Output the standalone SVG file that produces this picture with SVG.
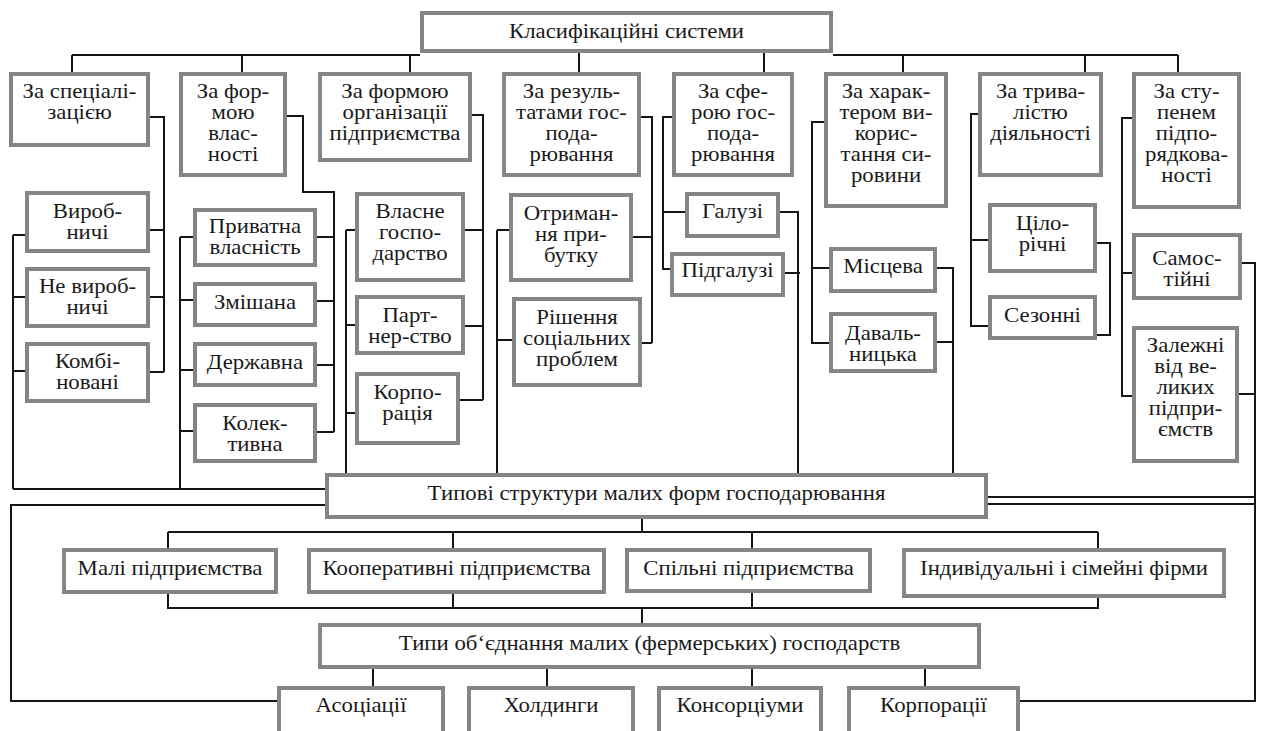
<svg xmlns="http://www.w3.org/2000/svg" width="1262" height="731" viewBox="0 0 1262 731">
<style>
.box{fill:#fff;stroke:#858585;stroke-width:4}
.ln{fill:none;stroke:#151515;stroke-width:2}
text{font-family:"Liberation Serif","Times New Roman",serif;font-size:20px;fill:#1a1a1a;text-anchor:middle}
</style>
<rect x="0" y="0" width="1262" height="731" fill="#fff"/>
<g id="connectors">
<path class="ln" d="M72,55 H420 M833,55 H1178 M72,55 V72 M242,55 V72 M410,55 V72 M579,53 V72 M764,53 V72 M903,55 V72 M1085,55 V72 M1178,55 V72"/>
<path class="ln" d="M150,117 H164 V372 M150,230 H164 M150,297 H164 M150,372 H164 M13,235 V489 M13,235 H25 M13,297 H25 M13,371 H25"/>
<path class="ln" d="M180,237 V489 M180,237 H193 M180,300 H193 M180,370 H193 M180,431 H193 M287,116 H303 V192 H334 V432 M317,237 H334 M317,301 H334 M317,365 H334 M317,432 H334 M13,489 H325"/>
<path class="ln" d="M472,115 H483 V400 M465,230 H483 M465,326 H483 M460,400 H483 M346,230 V473 M346,230 H355 M346,325 H355 M346,413 H355"/>
<path class="ln" d="M641,117 H652 V343 M633,237 H652 M642,343 H652 M497,230 V473 M497,230 H509 M497,340 H512"/>
<path class="ln" d="M672,117 H663 V269 H670 M663,212 H685 M780,212 H798 V473 M785,273 H800"/>
<path class="ln" d="M824,122 H812 V343 H829 M812,268 H829 M937,268 H953 V473 M937,342 H953"/>
<path class="ln" d="M978,114 H971 V326 H988 M971,240 H988 M1097,243 H1110 V335 H1097"/>
<path class="ln" d="M1132,118 H1122 V396 H1132 M1122,273 H1132 M1242,263 H1255 V701 H1020 M1239,394 H1255 M1255,497 H988 M988,504 H1255"/>
<path class="ln" d="M325,505 H11 V701 H277"/>
<path class="ln" d="M642,519 V532 M168,532 H1098 M168,532 V548 M453,532 V548 M752,532 V548 M1098,532 V548 M168,594 V608 H1098 V598 M453,594 V608 M752,593 V608 M642,608 V623"/>
<path class="ln" d="M373,669 V686 M547,669 V686 M752,669 V686 M925,669 V686"/>
</g>
<g id="n-title"><rect class="box" x="422" y="13" width="409" height="38"/><text transform="translate(626.5 38) scale(1.14 1)">Класифікаційні системи</text></g>
<g id="n1"><rect class="box" x="11" y="74" width="137" height="71"/><text transform="translate(79.5 98) scale(1.14 1)"><tspan x="0">За спеціалі-</tspan><tspan x="0" dy="21">зацією</tspan></text></g>
<g id="n2"><rect class="box" x="181" y="74" width="104" height="101"/><text transform="translate(233 98) scale(1.14 1)"><tspan x="0">За фор-</tspan><tspan x="0" dy="21">мою</tspan><tspan x="0" dy="21">влас-</tspan><tspan x="0" dy="21">ності</tspan></text></g>
<g id="n3"><rect class="box" x="320" y="74" width="150" height="86"/><text transform="translate(395 98) scale(1.14 1)"><tspan x="0">За формою</tspan><tspan x="0" dy="21">організації</tspan><tspan x="0" dy="21">підприємства</tspan></text></g>
<g id="n4"><rect class="box" x="504" y="74" width="135" height="101"/><text transform="translate(571.5 98) scale(1.14 1)"><tspan x="0">За резуль-</tspan><tspan x="0" dy="21">татами гос-</tspan><tspan x="0" dy="21">пода-</tspan><tspan x="0" dy="21">рювання</tspan></text></g>
<g id="n5"><rect class="box" x="674" y="74" width="118" height="101"/><text transform="translate(733 98) scale(1.14 1)"><tspan x="0">За сфе-</tspan><tspan x="0" dy="21">рою гос-</tspan><tspan x="0" dy="21">пода-</tspan><tspan x="0" dy="21">рювання</tspan></text></g>
<g id="n6"><rect class="box" x="826" y="74" width="120" height="132"/><text transform="translate(886 98) scale(1.14 1)"><tspan x="0">За харак-</tspan><tspan x="0" dy="21">тером ви-</tspan><tspan x="0" dy="21">корис-</tspan><tspan x="0" dy="21">тання си-</tspan><tspan x="0" dy="21">ровини</tspan></text></g>
<g id="n7"><rect class="box" x="980" y="74" width="121" height="101"/><text transform="translate(1040.5 98) scale(1.14 1)"><tspan x="0">За трива-</tspan><tspan x="0" dy="21">лістю</tspan><tspan x="0" dy="21">діяльності</tspan></text></g>
<g id="n8"><rect class="box" x="1134" y="74" width="105" height="133"/><text transform="translate(1186.5 98) scale(1.14 1)"><tspan x="0">За сту-</tspan><tspan x="0" dy="21">пенем</tspan><tspan x="0" dy="21">підпо-</tspan><tspan x="0" dy="21">рядкова-</tspan><tspan x="0" dy="21">ності</tspan></text></g>
<g id="c1a"><rect class="box" x="27" y="193" width="121" height="58"/><text transform="translate(87.5 218) scale(1.14 1)"><tspan x="0">Вироб-</tspan><tspan x="0" dy="21">ничі</tspan></text></g>
<g id="c1b"><rect class="box" x="27" y="269" width="121" height="57"/><text transform="translate(87.5 293) scale(1.14 1)"><tspan x="0">Не вироб-</tspan><tspan x="0" dy="21">ничі</tspan></text></g>
<g id="c1c"><rect class="box" x="27" y="344" width="121" height="57"/><text transform="translate(87.5 368) scale(1.14 1)"><tspan x="0">Комбі-</tspan><tspan x="0" dy="21">новані</tspan></text></g>
<g id="c2a"><rect class="box" x="195" y="210" width="120" height="55"/><text transform="translate(255 233) scale(1.14 1)"><tspan x="0">Приватна</tspan><tspan x="0" dy="21">власність</tspan></text></g>
<g id="c2b"><rect class="box" x="195" y="284" width="120" height="41"/><text transform="translate(255 309) scale(1.14 1)">Змішана</text></g>
<g id="c2c"><rect class="box" x="195" y="344" width="120" height="41"/><text transform="translate(255 369) scale(1.14 1)">Державна</text></g>
<g id="c2d"><rect class="box" x="195" y="405" width="120" height="56"/><text transform="translate(255 430) scale(1.14 1)"><tspan x="0">Колек-</tspan><tspan x="0" dy="21">тивна</tspan></text></g>
<g id="c3a"><rect class="box" x="357" y="194" width="106" height="86"/><text transform="translate(410 218) scale(1.14 1)"><tspan x="0">Власне</tspan><tspan x="0" dy="21">госпо-</tspan><tspan x="0" dy="21">дарство</tspan></text></g>
<g id="c3b"><rect class="box" x="357" y="297" width="106" height="56"/><text transform="translate(410 322) scale(1.14 1)"><tspan x="0">Парт-</tspan><tspan x="0" dy="21">нер-ство</tspan></text></g>
<g id="c3c"><rect class="box" x="357" y="374" width="101" height="69"/><text transform="translate(407.5 399) scale(1.14 1)"><tspan x="0">Корпо-</tspan><tspan x="0" dy="21">рація</tspan></text></g>
<g id="c4a"><rect class="box" x="511" y="195" width="120" height="85"/><text transform="translate(571 220) scale(1.14 1)"><tspan x="0">Отриман-</tspan><tspan x="0" dy="21">ня при-</tspan><tspan x="0" dy="21">бутку</tspan></text></g>
<g id="c4b"><rect class="box" x="514" y="299" width="126" height="86"/><text transform="translate(577 324) scale(1.14 1)"><tspan x="0">Рішення</tspan><tspan x="0" dy="21">соціальних</tspan><tspan x="0" dy="21">проблем</tspan></text></g>
<g id="c5a"><rect class="box" x="687" y="194" width="91" height="42"/><text transform="translate(732.5 218) scale(1.14 1)">Галузі</text></g>
<g id="c5b"><rect class="box" x="672" y="254" width="111" height="41"/><text transform="translate(727.5 277) scale(1.14 1)">Підгалузі</text></g>
<g id="c6a"><rect class="box" x="831" y="249" width="104" height="42"/><text transform="translate(883 273) scale(1.14 1)">Місцева</text></g>
<g id="c6b"><rect class="box" x="831" y="314" width="104" height="57"/><text transform="translate(883 340) scale(1.14 1)"><tspan x="0">Даваль-</tspan><tspan x="0" dy="21">ницька</tspan></text></g>
<g id="c7a"><rect class="box" x="990" y="205" width="105" height="66"/><text transform="translate(1042.5 230) scale(1.14 1)"><tspan x="0">Ціло-</tspan><tspan x="0" dy="21">річні</tspan></text></g>
<g id="c7b"><rect class="box" x="990" y="297" width="105" height="41"/><text transform="translate(1042.5 322) scale(1.14 1)">Сезонні</text></g>
<g id="c8a"><rect class="box" x="1134" y="235" width="106" height="63"/><text transform="translate(1187 265) scale(1.14 1)"><tspan x="0">Самос-</tspan><tspan x="0" dy="21">тійні</tspan></text></g>
<g id="c8b"><rect class="box" x="1134" y="328" width="103" height="133"/><text transform="translate(1185.5 352) scale(1.14 1)"><tspan x="0">Залежні</tspan><tspan x="0" dy="21">від ве-</tspan><tspan x="0" dy="21">ликих</tspan><tspan x="0" dy="21">підпри-</tspan><tspan x="0" dy="21">ємств</tspan></text></g>
<g id="n-typovi"><rect class="box" x="327" y="475" width="659" height="42"/><text transform="translate(656.5 500) scale(1.14 1)">Типові структури малих форм господарювання</text></g>
<g id="r3a"><rect class="box" x="64" y="550" width="212" height="42"/><text transform="translate(170 575) scale(1.14 1)">Малі підприємства</text></g>
<g id="r3b"><rect class="box" x="309" y="550" width="295" height="42"/><text transform="translate(456.5 575) scale(1.14 1)">Кооперативні підприємства</text></g>
<g id="r3c"><rect class="box" x="627" y="550" width="243" height="41"/><text transform="translate(748.5 575) scale(1.14 1)">Спільні підприємства</text></g>
<g id="r3d"><rect class="box" x="904" y="550" width="320" height="46"/><text transform="translate(1064 575) scale(1.14 1)">Індивідуальні і сімейні фірми</text></g>
<g id="n-typy"><rect class="box" x="320" y="625" width="659" height="42"/><text transform="translate(649.5 650) scale(1.14 1)">Типи об‘єднання малих (фермерських) господарств</text></g>
<g id="r4a"><rect class="box" x="279" y="688" width="164" height="60"/><text transform="translate(361 712) scale(1.14 1)">Асоціації</text></g>
<g id="r4b"><rect class="box" x="469" y="688" width="164" height="60"/><text transform="translate(551 712) scale(1.14 1)">Холдинги</text></g>
<g id="r4c"><rect class="box" x="659" y="688" width="162" height="60"/><text transform="translate(740 712) scale(1.14 1)">Консорціуми</text></g>
<g id="r4d"><rect class="box" x="849" y="688" width="169" height="60"/><text transform="translate(933.5 712) scale(1.14 1)">Корпорації</text></g>
</svg>
